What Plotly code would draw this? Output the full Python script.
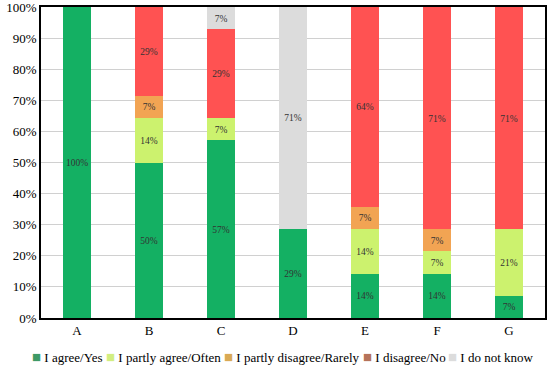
import plotly.graph_objects as go

categories = ["A", "B", "C", "D", "E", "F", "G"]
series_names = ["I agree/Yes", "I partly agree/Often", "I partly disagree/Rarely",
                "I disagree/No", "I do not know"]
agree = [100, 50, 57.1, 28.6, 14.3, 14.3, 7.1]
partly_agree = [0, 14.3, 7.1, 0, 14.3, 7.1, 21.4]
partly_disagree = [0, 7.1, 0, 0, 7.1, 7.1, 0]
disagree = [0, 28.6, 28.6, 0, 64.3, 71.4, 71.4]
dont_know = [0, 0, 7.1, 71.4, 0, 0, 0]
y_ticks = [0, 10, 20, 30, 40, 50, 60, 70, 80, 90, 100]

colors = ["#14B063", "#CCF26E", "#F2A453", "#FF5252", "#DCDCDC"]
legend_colors = ["#3E9A66", "#D2EE80", "#D9AA55", "#B5735A", "#DCDCDC"]
series = [agree, partly_agree, partly_disagree, disagree, dont_know]

W, H = 550, 372
L, R, T, B = 41, 5, 7, 54
pw, ph = W - L - R, H - T - B

font_family = "Liberation Serif, DejaVu Serif, serif"
fig = go.Figure()
for name, vals, col in zip(series_names, series, colors):
    fig.add_trace(go.Bar(
        x=categories, y=vals, name=name, marker=dict(color=col, line=dict(width=0)),
        text=["" if v == 0 else f"{round(v)}%" for v in vals],
        textposition="inside", insidetextanchor="middle", textangle=0,
        textfont=dict(size=11, color="#333333", family=font_family),
        hoverinfo="skip", showlegend=False,
    ))

# compact legend drawn as annotations (left edge pixel positions)
legend_px = [30, 104, 222, 361, 446]
for name, col, px in zip(series_names, legend_colors, legend_px):
    fig.add_annotation(
        xref="paper", yref="paper", x=(px - L) / pw, y=(T + ph - 357) / ph,
        xanchor="left", yanchor="middle", showarrow=False,
        text=f"<span style='color:{col};font-size:15px'>■</span> {name}",
        font=dict(size=13, family=font_family, color="black"),
    )

fig.update_layout(
    barmode="stack", bargap=0.61,
    width=W, height=H,
    margin=dict(l=L, r=R, t=T, b=B),
    plot_bgcolor="white", paper_bgcolor="white",
    font=dict(family=font_family, size=13, color="black"),
    uniformtext=dict(minsize=8, mode="show"),
    showlegend=False,
)
fig.update_yaxes(range=[0, 100], tickvals=y_ticks, ticktext=[f"{t}%" for t in y_ticks],
                 showgrid=True, gridcolor="#D0D0D0", gridwidth=1,
                 showline=True, linecolor="black", linewidth=1.5, mirror=True,
                 ticks="", zeroline=False, tickfont=dict(size=13), automargin=False,
                 ticklabeloverflow="allow")
fig.update_xaxes(showline=True, linecolor="black", linewidth=1.5, mirror=True,
                 ticks="", tickfont=dict(size=13), automargin=False)

fig.write_html("out.html", config={"displayModeBar": False})
with open("out.html", encoding="utf-8") as f:
    html = f.read()
html = html.replace("<body>", "<body style=\"margin:0;padding:0;overflow:hidden\">", 1)
with open("out.html", "w", encoding="utf-8") as f:
    f.write(html)
